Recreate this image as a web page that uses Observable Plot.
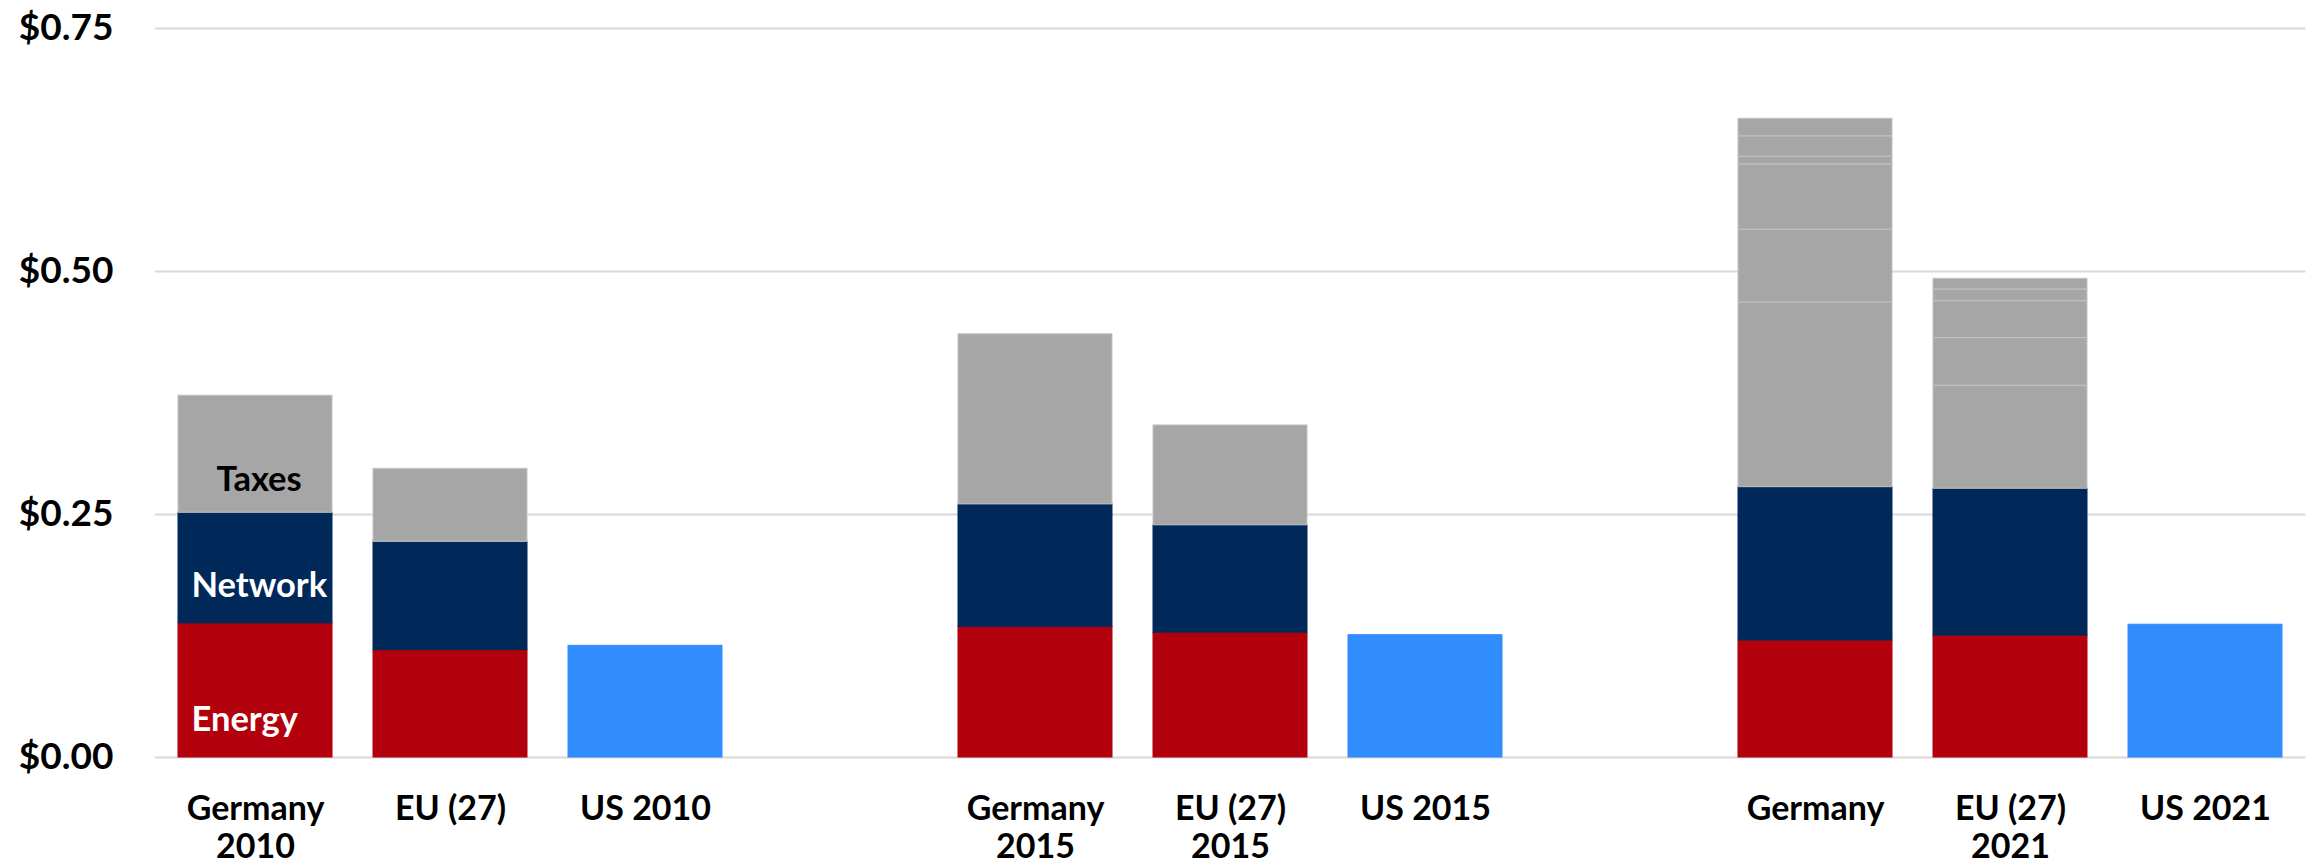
<!DOCTYPE html>
<html>
<head>
<meta charset="utf-8">
<script src="https://cdn.jsdelivr.net/npm/d3@7"></script>
<script src="https://cdn.jsdelivr.net/npm/@observablehq/plot@0.6"></script>
<style>
  html, body { margin: 0; padding: 0; background: #ffffff; }
  #chart svg { display: block; }
</style>
</head>
<body>
<div id="chart"></div>
<script>
// ---- data ----
const categories = ["Germany\n2010", "EU (27)", "US 2010",
                    "Germany\n2015", "EU (27)\n2015", "US 2015",
                    "Germany", "EU (27)\n2021", "US 2021"];
const gapAfter = [2, 5];           // empty slot after these category indices
const energy  = [0.138, 0.1105, null, 0.1344, 0.1284, null, 0.1204, 0.1255, null];
const network = [0.1138, 0.1114, null, 0.126, 0.1105, null, 0.1577, 0.151, null];
const taxes   = [[0.1204], [0.0751], [], [0.175], [0.1027], [],
                 [0.190, 0.075, 0.067, 0.008, 0.021, 0.018],
                 [0.106, 0.049, 0.038, 0.012, 0.011], []];
const us      = [null, null, 0.1149, null, null, 0.1258, null, null, 0.1366];
const yTicks  = [0, 0.25, 0.5, 0.75];
const segmentLabels = ["Taxes", "Network", "Energy"];
const segmentLabelY = [0.286, 0.177, 0.039];
const segmentLabelColor = ["#000000", "#ffffff", "#ffffff"];

// ---- build table ----
const colors = {Energy: "#b2000c", Network: "#00295a", Taxes: "#a5a6a5", US: "#318cfe"};
const strokes = {Energy: "#b2000c", Network: "#00295a", Taxes: "#c2c3c2", US: "#318cfe"};
const rows = [];
categories.forEach((c, i) => {
  if (energy[i] != null) rows.push({cat: c, comp: "Energy", value: energy[i]});
  if (network[i] != null) rows.push({cat: c, comp: "Network", value: network[i]});
  taxes[i].forEach(v => rows.push({cat: c, comp: "Taxes", value: v}));
  if (us[i] != null) rows.push({cat: c, comp: "US", value: us[i]});
});
const domain = [];
categories.forEach((c, i) => {
  domain.push(c);
  if (gapAfter.includes(i)) domain.push("gap" + i);
});
const labelRows = segmentLabels.map((l, i) => ({label: l, y: segmentLabelY[i], color: segmentLabelColor[i]}));

const font = "Lato, 'Open Sans', sans-serif";
const labelDx = {Taxes: -39, Network: -64, Energy: -64};

const segmentMarks = labelRows.map(r => Plot.text([r], {
  x: () => categories[0], y: "y", text: "label",
  fill: r.color, textAnchor: "start", dx: labelDx[r.label],
  fontSize: 34.5, fontWeight: 700, fontFamily: font
}));

const chart = Plot.plot({
  width: 2308,
  height: 865,
  marginLeft: 155,
  marginRight: 2.5,
  marginTop: 28,
  marginBottom: 108,
  style: {fontFamily: font, background: "#ffffff", color: "#000000"},
  x: {type: "band", domain, paddingInner: 0.2123, paddingOuter: 0.106, axis: null},
  y: {domain: [0, 0.75], axis: null},
  marks: [
    Plot.gridY(yTicks, {stroke: "#d9d9d9", strokeOpacity: 1, strokeWidth: 2}),
    Plot.axisY(yTicks, {
      tickSize: 0, tickPadding: 42, tickFormat: d3.format("$.2f"),
      fontSize: 37, fontWeight: 700, fontFamily: font, fill: "#000000"
    }),
    Plot.barY(rows, {
      x: "cat", y: "value",
      fill: d => colors[d.comp],
      stroke: d => strokes[d.comp],
      strokeWidth: 1
    }),
    ...segmentMarks,
    Plot.text(categories, {
      x: d => d, y: () => 0, text: d => d,
      dy: 35, lineAnchor: "top", lineHeight: 1.132,
      fontSize: 34, fontWeight: 700, fontFamily: font, fill: "#000000"
    })
  ]
});
document.getElementById("chart").appendChild(chart);
</script>
</body>
</html>
